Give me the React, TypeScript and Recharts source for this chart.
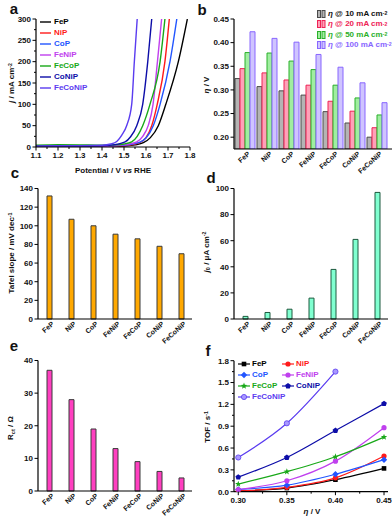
import React from 'react'
import { Bar, BarChart, Line, LineChart, XAxis, YAxis } from 'recharts'

const FONT = '"Liberation Sans", Arial, sans-serif'

// a: polarization curves, [potential V vs RHE, j mA cm-2]
const lsvFeP = [[1.1, 1], [1.2, 1], [1.3, 1], [1.4, 1], [1.5, 2], [1.55, 5], [1.588, 10], [1.62, 22], [1.656, 50], [1.69, 100], [1.747, 200], [1.788, 300]]
const lsvNiP = [[1.1, 0.5], [1.2, 0.5], [1.3, 0.5], [1.4, 1], [1.5, 3], [1.55, 7], [1.57, 10], [1.6, 22], [1.626, 50], [1.651, 100], [1.686, 200], [1.706, 300]]
const lsvCoP = [[1.1, 1], [1.2, 1], [1.3, 1], [1.4, 1.5], [1.5, 4], [1.55, 8], [1.57, 11], [1.6, 21], [1.633, 50], [1.664, 100], [1.709, 200], [1.74, 300]]
const lsvFeNiP = [[1.1, 1], [1.2, 1], [1.3, 1], [1.4, 1.5], [1.5, 5], [1.558, 12], [1.585, 25], [1.61, 50], [1.632, 100], [1.652, 200], [1.671, 300]]
const lsvFeCoP = [[1.1, 4], [1.2, 5.5], [1.3, 5], [1.4, 4], [1.45, 5], [1.5, 7], [1.535, 12], [1.56, 25], [1.585, 50], [1.618, 100], [1.664, 200], [1.686, 300]]
const lsvCoNiP = [[1.1, 2], [1.2, 2.5], [1.3, 2.5], [1.4, 3], [1.45, 5], [1.505, 12], [1.53, 24], [1.558, 50], [1.585, 100], [1.608, 200], [1.626, 300]]
const lsvFeCoNiP = [[1.1, 2], [1.2, 3], [1.3, 3], [1.4, 4], [1.44, 7], [1.467, 13], [1.49, 28], [1.512, 50], [1.535, 100], [1.547, 200], [1.56, 300]]

const samples = ['FeP', 'NiP', 'CoP', 'FeNiP', 'FeCoP', 'CoNiP', 'FeCoNiP']

// b: overpotentials (V)
const eta10 = [0.324, 0.307, 0.298, 0.289, 0.254, 0.23, 0.2]
const eta20 = [0.345, 0.336, 0.321, 0.31, 0.276, 0.255, 0.22]
const eta50 = [0.379, 0.378, 0.361, 0.343, 0.31, 0.283, 0.247]
const eta100 = [0.423, 0.409, 0.401, 0.375, 0.348, 0.315, 0.273]

// c, d, e
const tafelSlope = [132, 107, 100, 91, 86, 78, 70]
const exchangeCurrent = [2, 5, 7.5, 16, 38, 61, 97]
const chargeTransfer = [37, 28, 19, 13, 9, 6, 4]

// f: TOF (s-1) vs overpotential
const tofEta = [0.3, 0.35, 0.4, 0.45]
const tofFeP = [0.01, 0.05, 0.165, 0.32]
const tofNiP = [0.01, 0.06, 0.19, 0.49]
const tofCoP = [0.03, 0.09, 0.24, 0.44]
const tofFeNiP = [0.03, 0.15, 0.42, 0.88]
const tofFeCoP = [0.105, 0.275, 0.48, 0.75]
const tofCoNiP = [0.2, 0.47, 0.84, 1.21]
const tofFeCoNiP = [0.47, 0.94, 1.65]

// ticks
const aTicksX = [1.1, 1.15, 1.2, 1.25, 1.3, 1.35, 1.4, 1.45, 1.5, 1.55, 1.6, 1.65, 1.7, 1.75, 1.8]
const aMajorX = [1.1, 1.2, 1.3, 1.4, 1.5, 1.6, 1.7, 1.8]
const aTicksY = [0, 25, 50, 75, 100, 125, 150, 175, 200, 225, 250, 275, 300]
const aMajorY = [0, 50, 100, 150, 200, 250, 300]
const bTicksY = [0.2, 0.25, 0.3, 0.35, 0.4, 0.45]
const cTicksY = [0, 20, 40, 60, 80, 100, 120, 140]
const dTicksY = [0, 20, 40, 60, 80, 100]
const eTicksY = [0, 10, 20, 30, 40]
const fTicksX = [0.3, 0.325, 0.35, 0.375, 0.4, 0.425, 0.45]
const fMajorX = [0.3, 0.35, 0.4, 0.45]
const fTicksY = [0, 0.15, 0.3, 0.45, 0.6, 0.75, 0.9, 1.05, 1.2, 1.35, 1.5, 1.65, 1.8]
const fMajorY = [0, 0.3, 0.6, 0.9, 1.2, 1.5, 1.8]

const colors = {
  FeP: '#000000',
  NiP: '#ff1a1a',
  CoP: '#2255ff',
  FeNiP: '#c040ee',
  FeCoP: '#18a818',
  CoNiP: '#0d0da8',
  FeCoNiP: '#5a3cf0',
}

const lsvSeries = [
  { name: 'FeP', pts: lsvFeP },
  { name: 'NiP', pts: lsvNiP },
  { name: 'CoP', pts: lsvCoP },
  { name: 'FeNiP', pts: lsvFeNiP },
  { name: 'FeCoP', pts: lsvFeCoP },
  { name: 'CoNiP', pts: lsvCoNiP },
  { name: 'FeCoNiP', pts: lsvFeCoNiP },
]

const etaRows = samples.map((name, i) => ({ name, e10: eta10[i], e20: eta20[i], e50: eta50[i], e100: eta100[i] }))
const tafelRows = samples.map((name, i) => ({ name, v: tafelSlope[i] }))
const j0Rows = samples.map((name, i) => ({ name, v: exchangeCurrent[i] }))
const rctRows = samples.map((name, i) => ({ name, v: chargeTransfer[i] }))
const tofRows = tofEta.map((eta, i) => ({
  eta,
  FeP: tofFeP[i],
  NiP: tofNiP[i],
  CoP: tofCoP[i],
  FeNiP: tofFeNiP[i],
  FeCoP: tofFeCoP[i],
  CoNiP: tofCoNiP[i],
  FeCoNiP: tofFeCoNiP[i],
}))

const isIn = (arr: number[], v: number) => arr.some((m) => Math.abs(m - v) < 1e-9)

function YTick(props: any) {
  const { x, y, payload, majors, fmt } = props
  const major = majors ? isIn(majors, payload.value) : true
  return (
    <g>
      <line x1={x} y1={y} x2={x - (major ? 3.5 : 2)} y2={y} stroke="#000" strokeWidth={1} />
      {major && (
        <text x={x - 5} y={y} dy="0.35em" textAnchor="end" fontSize={8} fontWeight="bold" fontFamily={FONT} fill="#111">
          {fmt(payload.value)}
        </text>
      )}
    </g>
  )
}

function XTick(props: any) {
  const { x, y, payload, majors, fmt } = props
  const major = isIn(majors, payload.value)
  return (
    <g>
      <line x1={x} y1={y} x2={x} y2={y + (major ? 3.5 : 2)} stroke="#000" strokeWidth={1} />
      {major && (
        <text x={x} y={y + 5} dy="0.75em" textAnchor="middle" fontSize={8} fontWeight="bold" fontFamily={FONT} fill="#111">
          {fmt(payload.value)}
        </text>
      )}
    </g>
  )
}

function CatTick(props: any) {
  const { x, y, payload } = props
  const tx = x + 4
  const ty = y + 4
  return (
    <text x={tx} y={ty} dy="0.3em" textAnchor="end" transform={`rotate(-42 ${tx} ${ty})`} fontSize={7} fontWeight="bold" fontFamily={FONT} fill="#111">
      {payload.value}
    </text>
  )
}

function Marker({ kind, cx, cy, color, fill }: any) {
  if (cx == null || cy == null || Number.isNaN(cy)) return <g />
  if (kind === 'square') return <rect x={cx - 2.3} y={cy - 2.3} width={4.6} height={4.6} fill={color} />
  if (kind === 'diamond') return <polygon points={`${cx},${cy - 3.2} ${cx + 3.2},${cy} ${cx},${cy + 3.2} ${cx - 3.2},${cy}`} fill={color} />
  if (kind === 'star' || kind === 'pentagon') {
    const n = kind === 'star' ? 10 : 5
    const pts: string[] = []
    for (let k = 0; k < n; k++) {
      const r = kind === 'star' ? (k % 2 === 0 ? 3.4 : 1.4) : 3
      const a = -Math.PI / 2 + (k * 2 * Math.PI) / n
      pts.push(`${cx + r * Math.cos(a)},${cy + r * Math.sin(a)}`)
    }
    return <polygon points={pts.join(' ')} fill={color} />
  }
  return <circle cx={cx} cy={cy} r={2.6} fill={fill || color} stroke={color} strokeWidth={fill ? 0.8 : 0} />
}

const tofSeries = [
  { key: 'FeP', kind: 'square' },
  { key: 'NiP', kind: 'circle' },
  { key: 'CoP', kind: 'diamond' },
  { key: 'FeNiP', kind: 'circle' },
  { key: 'FeCoP', kind: 'star' },
  { key: 'CoNiP', kind: 'pentagon' },
  { key: 'FeCoNiP', kind: 'circle', fill: '#a898ff' },
]

const fmt0 = (v: number) => String(v)
const fmt1 = (v: number) => v.toFixed(1)
const fmt2 = (v: number) => v.toFixed(2)

const axisLine = { stroke: '#000', strokeWidth: 1.2 }

const txt: React.CSSProperties = {
  position: 'absolute',
  fontFamily: FONT,
  fontWeight: 'bold',
  fontSize: 8,
  lineHeight: 1,
  whiteSpace: 'nowrap',
  color: '#111',
}

function Abs({ x, y, rot, size, color, children }: any) {
  return (
    <div
      style={{
        ...txt,
        left: x,
        top: y,
        fontSize: size || 8,
        color: color || '#111',
        transform: `translate(-50%, -50%)${rot ? ' rotate(-90deg)' : ''}`,
      }}
    >
      {children}
    </div>
  )
}

const sup = { fontSize: '0.65em', verticalAlign: '0.55em' }
const sub = { fontSize: '0.7em', verticalAlign: '-0.3em' }

function BarPanel({ rows, ticks, domain, fill, stroke }: any) {
  return (
    <BarChart width={196} height={172} data={rows} margin={{ top: 13.5, right: 4, bottom: 0, left: 0 }} barSize={5}>
      <XAxis dataKey="name" type="category" height={28} axisLine={axisLine} tickLine={false} tickSize={0} tickMargin={0} interval={0} tick={(p: any) => <CatTick {...p} />} />
      <YAxis type="number" domain={domain} ticks={ticks} interval={0} width={38} axisLine={axisLine} tickLine={false} tickSize={0} tickMargin={0} tick={(p: any) => <YTick {...p} fmt={fmt0} />} />
      <Bar dataKey="v" fill={fill} stroke={stroke} strokeWidth={1} isAnimationActive={false} />
    </BarChart>
  )
}

export default function App() {
  return (
    <div style={{ position: 'absolute', left: 0, top: 0, width: 392, height: 519, background: '#fff', overflow: 'hidden' }}>
      {/* a */}
      <div style={{ position: 'absolute', left: 0, top: 0 }}>
        <LineChart width={196} height={175} margin={{ top: 19, right: 6, bottom: 0, left: 0 }}>
          <XAxis type="number" dataKey="v" domain={[1.1, 1.8]} ticks={aTicksX} interval={0} height={28} axisLine={axisLine} tickLine={false} tickSize={0} tickMargin={0} allowDataOverflow tick={(p: any) => <XTick {...p} majors={aMajorX} fmt={fmt1} />} />
          <YAxis type="number" domain={[0, 300]} ticks={aTicksY} interval={0} width={36} axisLine={axisLine} tickLine={false} tickSize={0} tickMargin={0} allowDataOverflow tick={(p: any) => <YTick {...p} majors={aMajorY} fmt={fmt0} />} />
          {lsvSeries.map((s) => (
            <Line
              key={s.name}
              data={s.pts.map(([v, j]) => ({ v, j }))}
              dataKey="j"
              type="monotone"
              stroke={(colors as any)[s.name]}
              strokeWidth={1.4}
              dot={false}
              activeDot={false}
              isAnimationActive={false}
            />
          ))}
        </LineChart>
      </div>
      {/* b */}
      <div style={{ position: 'absolute', left: 196, top: 0 }}>
        <BarChart width={196} height={175} data={etaRows} margin={{ top: 19, right: 0, bottom: 0, left: 0 }} barSize={5} barGap={0}>
          <XAxis dataKey="name" type="category" height={26} padding={{ left: 0, right: 4 }} axisLine={axisLine} tickLine={false} tickSize={0} tickMargin={0} interval={0} tick={(p: any) => <CatTick {...p} />} />
          <YAxis type="number" domain={[0.175, 0.45]} ticks={bTicksY} interval={0} width={38} axisLine={axisLine} tickLine={false} tickSize={0} tickMargin={0} allowDataOverflow tick={(p: any) => <YTick {...p} fmt={fmt2} />} />
          <Bar dataKey="e10" fill="#b4b4b4" stroke="#4a4a4a" strokeWidth={1} isAnimationActive={false} />
          <Bar dataKey="e20" fill="#ffa0b8" stroke="#ee2255" strokeWidth={1} isAnimationActive={false} />
          <Bar dataKey="e50" fill="#a0eea0" stroke="#2ab02a" strokeWidth={1} isAnimationActive={false} />
          <Bar dataKey="e100" fill="#cfc4ff" stroke="#8866ff" strokeWidth={1} isAnimationActive={false} />
        </BarChart>
      </div>
      {/* c */}
      <div style={{ position: 'absolute', left: 0, top: 175 }}>
        <BarPanel rows={tafelRows} ticks={cTicksY} domain={[0, 140]} fill="#ffa800" stroke="#3a3a3a" />
      </div>
      {/* d */}
      <div style={{ position: 'absolute', left: 196, top: 175 }}>
        <BarPanel rows={j0Rows} ticks={dTicksY} domain={[0, 100]} fill="#80ffd0" stroke="#1d5a3e" />
      </div>
      {/* e */}
      <div style={{ position: 'absolute', left: 0, top: 347 }}>
        <BarPanel rows={rctRows} ticks={eTicksY} domain={[0, 40]} fill="#ff3fc0" stroke="#3a3a3a" />
      </div>
      {/* f */}
      <div style={{ position: 'absolute', left: 196, top: 347 }}>
        <LineChart width={196} height={172} data={tofRows} margin={{ top: 13.7, right: 4, bottom: 0, left: 0 }}>
          <XAxis type="number" dataKey="eta" domain={[0.2956, 0.4541]} ticks={fTicksX} interval={0} height={27.3} axisLine={axisLine} tickLine={false} tickSize={0} tickMargin={0} allowDataOverflow tick={(p: any) => <XTick {...p} majors={fMajorX} fmt={fmt2} />} />
          <YAxis type="number" domain={[0, 1.8]} ticks={fTicksY} interval={0} width={38} axisLine={axisLine} tickLine={false} tickSize={0} tickMargin={0} allowDataOverflow tick={(p: any) => <YTick {...p} majors={fMajorY} fmt={fmt1} />} />
          {tofSeries.map((s) => (
            <Line
              key={s.key}
              dataKey={s.key}
              type="monotone"
              stroke={(colors as any)[s.key]}
              strokeWidth={1.2}
              activeDot={false}
              isAnimationActive={false}
              dot={(p: any) => <Marker key={`${s.key}-${p.index}`} kind={s.kind} cx={p.cx} cy={p.cy} color={(colors as any)[s.key]} fill={s.fill} />}
            />
          ))}
        </LineChart>
      </div>

      {/* panel letters */}
      <Abs x={14} y={8} size={15}>a</Abs>
      <Abs x={202} y={9} size={15}>b</Abs>
      <Abs x={15} y={172} size={15}>c</Abs>
      <Abs x={211} y={177} size={15}>d</Abs>
      <Abs x={14} y={345} size={15}>e</Abs>
      <Abs x={208} y={350} size={15}>f</Abs>

      {/* axis titles */}
      <Abs x={12} y={83} rot>
        <i>j</i> / mA cm<span style={sup}>-2</span>
      </Abs>
      <Abs x={113} y={171}>
        Potential / V <i>vs</i> RHE
      </Abs>
      <Abs x={207} y={85} rot>
        <i>η</i> / V
      </Abs>
      <Abs x={12} y={253} rot>
        Tafel slope / mV dec<span style={sup}>-1</span>
      </Abs>
      <Abs x={207} y={252} rot>
        <i>j</i>
        <span style={sub}>0</span> / μA cm<span style={sup}>-2</span>
      </Abs>
      <Abs x={12} y={428} rot>
        R<span style={sub}>ct</span> / Ω
      </Abs>
      <Abs x={208} y={427} rot>
        TOF / s<span style={sup}>-1</span>
      </Abs>
      <Abs x={312} y={512}>
        <i>η</i> / V
      </Abs>

      {/* legend a */}
      {lsvSeries.map((s, i) => (
        <div key={s.name} style={{ ...txt, left: 40, top: 22 + i * 11 - 4, color: (colors as any)[s.name], display: 'flex', alignItems: 'center' }}>
          <svg width={11} height={8} style={{ marginRight: 3 }}>
            <line x1={0} y1={4} x2={11} y2={4} stroke={(colors as any)[s.name]} strokeWidth={1.4} />
          </svg>
          {s.name}
        </div>
      ))}

      {/* legend b */}
      {[
        { label: '10', fill: '#b4b4b4', stroke: '#4a4a4a', color: '#111' },
        { label: '20', fill: '#ffa0b8', stroke: '#ee2255', color: '#ee2255' },
        { label: '50', fill: '#a0eea0', stroke: '#2ab02a', color: '#2ab02a' },
        { label: '100', fill: '#cfc4ff', stroke: '#8866ff', color: '#8866ff' },
      ].map((l, i) => (
        <div key={l.label} style={{ ...txt, left: 317, top: 14 + i * 10.3 - 4, color: l.color, display: 'flex', alignItems: 'center' }}>
          <svg width={9} height={8} style={{ marginRight: 2 }}>
            <rect x={0.5} y={0.5} width={3} height={7} fill={l.fill} stroke={l.stroke} strokeWidth={1} />
            <rect x={5} y={0.5} width={3} height={7} fill={l.fill} stroke={l.stroke} strokeWidth={1} />
          </svg>
          <i>η</i>&nbsp;@ {l.label} mA cm<span style={sup}>-2</span>
        </div>
      ))}

      {/* legend f */}
      {tofSeries.map((s, i) => {
        const col = i % 2
        const row = Math.floor(i / 2)
        const c = (colors as any)[s.key]
        return (
          <div key={s.key} style={{ ...txt, left: col === 0 ? 238 : 282, top: 364 + row * 11 - 4, color: c, display: 'flex', alignItems: 'center' }}>
            <svg width={12} height={8} style={{ marginRight: 2 }}>
              <line x1={0} y1={4} x2={12} y2={4} stroke={c} strokeWidth={1.2} />
              <Marker kind={s.kind} cx={6} cy={4} color={c} fill={s.fill} />
            </svg>
            {s.key}
          </div>
        )
      })}
    </div>
  )
}
